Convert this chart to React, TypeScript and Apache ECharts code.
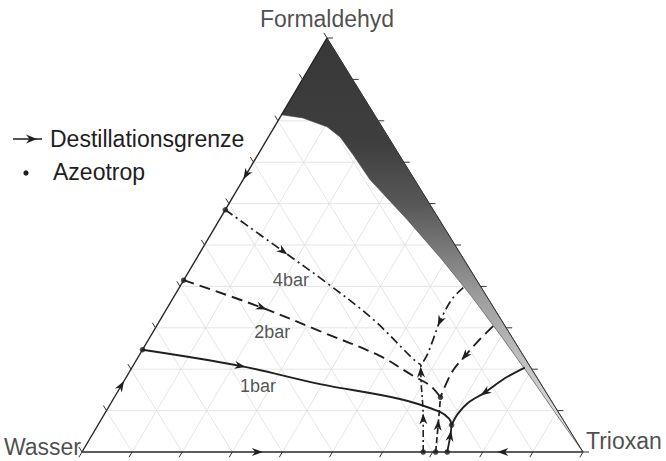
import React, { useEffect, useRef } from "react";
import * as echarts from "echarts";

// Compositions are [formaldehyde, trioxane] mass fractions; water is the remainder.
const componentNames = ["Wasser", "Trioxan", "Formaldehyd"];
const gridFractions = [0.1, 0.2, 0.3, 0.4, 0.5, 0.6, 0.7, 0.8, 0.9];
const tickFractions = [0, 0.1, 0.2, 0.3, 0.4, 0.5, 0.6, 0.7, 0.8, 0.9, 1];

// Inner edge of the shaded zone, from the Trioxan corner up to the water–formaldehyde edge
const shadedEdge = [
  [0, 1], [0.0795, 0.9145], [0.176, 0.812], [0.277, 0.703], [0.3735, 0.5965],
  [0.465, 0.491], [0.561, 0.375], [0.658, 0.253], [0.718, 0.19], [0.761, 0.143],
  [0.7855, 0.105], [0.807, 0.046], [0.8145, 0],
];

// Distillation boundaries at 1, 2 and 4 bar
const bar1Left = [[0.247, 0], [0.208, 0.214], [0.164, 0.395], [0.128, 0.572], [0.097, 0.667], [0.08, 0.694], [0.065, 0.706]];
const bar1Right = [[0.204, 0.784], [0.178, 0.757], [0.144, 0.734], [0.118, 0.712], [0.092, 0.705], [0.065, 0.706]];
const bar1Up = [[0, 0.729], [0.039, 0.716], [0.065, 0.706]];

const bar2Left = [[0.415, 0], [0.349, 0.188], [0.292, 0.332], [0.232, 0.481], [0.184, 0.571], [0.16, 0.617], [0.132, 0.651]];
const bar2Right = [[0.304, 0.672], [0.272, 0.661], [0.232, 0.651], [0.192, 0.644], [0.132, 0.651]];
const bar2Up = [[0, 0.706], [0.065, 0.679], [0.132, 0.651]];

const bar4Left = [[0.585, 0], [0.485, 0.164], [0.409, 0.288], [0.32, 0.425], [0.224, 0.552], [0.21, 0.574]];
const bar4Right = [[0.397, 0.567], [0.369, 0.558], [0.316, 0.56], [0.272, 0.568], [0.232, 0.5745], [0.21, 0.574]];
const bar4Up = [[0, 0.681], [0.08, 0.642], [0.193, 0.582], [0.21, 0.574]];

// Azeotropes: binary ones on the edges and the ternary ones where boundaries meet
const azeotropes = [
  [0.247, 0], [0.415, 0], [0.585, 0],
  [0.132, 0.651], [0.065, 0.706],
  [0, 0.681], [0, 0.706], [0, 0.729],
];

const pressureLabels = ["4bar", "2bar", "1bar"];
const pressureLabelAt = [[0.415, 0.214], [0.29, 0.238], [0.16, 0.273]];

// Arrowheads placed on a boundary vertex
const curveArrows = [
  { curve: bar4Left, at: 1 }, { curve: bar2Left, at: 1 }, { curve: bar1Left, at: 1 },
  { curve: bar4Right, at: 2 }, { curve: bar2Right, at: 2 }, { curve: bar1Right, at: 2 },
  { curve: bar4Up, at: 1 }, { curve: bar4Up, at: 2 }, { curve: bar2Up, at: 1 }, { curve: bar1Up, at: 1 },
];
// Arrowheads on the binary edges, pointing toward a pure component
const edgeArrows = [
  { at: [0.67, 0], toward: [0, 0] },
  { at: [0.16, 0], toward: [1, 0] },
  { at: [0, 0.35], toward: [0, 1] },
  { at: [0, 0.84], toward: [0, 0] },
];

const APEX_X = 0.489;
const INK = "#1f1f1f";
const TEXT = "#1e1e1e";
const FONT = '"Liberation Sans", Arial, sans-serif';

const toXY = (p: number[]) => [p[1] + APEX_X * p[0], p[0]];

function arrowShape(api: any, prev: number[], cur: number[], next: number[]) {
  const a = api.coord(prev);
  const c = api.coord(cur);
  const b = api.coord(next);
  let dx = b[0] - a[0];
  let dy = b[1] - a[1];
  const len = Math.hypot(dx, dy) || 1;
  dx /= len;
  dy /= len;
  const nx = -dy;
  const ny = dx;
  const L = 5.5;
  const W = 4;
  return [
    [c[0] + dx * L, c[1] + dy * L],
    [c[0] - dx * L + nx * W, c[1] - dy * L + ny * W],
    [c[0] - dx * 2.2, c[1] - dy * 2.2],
    [c[0] - dx * L - nx * W, c[1] - dy * L - ny * W],
  ];
}

export default function App() {
  const ref = useRef<HTMLDivElement>(null);

  useEffect(() => {
    if (!ref.current) return;
    const chart = echarts.init(ref.current, null, { renderer: "svg" });

    const W0 = [0, 0];
    const T0 = [0, 1];
    const F0 = [1, 0];

    const gridSegments: number[][] = [];
    gridFractions.forEach((g) => {
      gridSegments.push([...toXY([g, 0]), ...toXY([g, 1 - g])]);
      gridSegments.push([...toXY([0, g]), ...toXY([1 - g, g])]);
      gridSegments.push([...toXY([0, 1 - g]), ...toXY([1 - g, 0])]);
    });

    const ticks: number[][] = [];
    tickFractions.forEach((v) => {
      ticks.push([...toXY([v, 0]), 0]);
      ticks.push([...toXY([v, 1 - v]), 1]);
      ticks.push([...toXY([0, v]), 2]);
    });

    const arrowItems: number[][] = [];
    curveArrows.forEach(({ curve, at }) => {
      arrowItems.push([...toXY(curve[at - 1]), ...toXY(curve[at]), ...toXY(curve[at + 1])]);
    });
    edgeArrows.forEach(({ at, toward }) => {
      arrowItems.push([...toXY(at), ...toXY(at), ...toXY(toward)]);
    });

    const boundaryLine = (data: number[][], type: any, width: number) => ({
      type: "line",
      data: data.map(toXY),
      smooth: 0.35,
      showSymbol: false,
      silent: true,
      z: 5,
      lineStyle: { color: INK, width, type },
    });

    chart.setOption({
      animation: false,
      backgroundColor: "#ffffff",
      grid: { left: 82, right: 83, top: 38, bottom: 9 },
      xAxis: { type: "value", min: 0, max: 1, show: false },
      yAxis: { type: "value", min: 0, max: 1, show: false },
      graphic: [
        { type: "line", shape: { x1: 13, y1: 139, x2: 42, y2: 139 }, style: { stroke: INK, lineWidth: 1.5 } },
        { type: "polygon", shape: { points: [[37, 139], [26, 134.5], [29.5, 139], [26, 143.5]] }, style: { fill: INK } },
        { type: "text", x: 50, y: 139, style: { text: "Destillationsgrenze", font: `23px ${FONT}`, fill: TEXT, textVerticalAlign: "middle" } },
        { type: "circle", shape: { cx: 26, cy: 173, r: 2.6 }, style: { fill: INK } },
        { type: "text", x: 53, y: 172, style: { text: "Azeotrop", font: `23px ${FONT}`, fill: TEXT, textVerticalAlign: "middle" } },
      ],
      series: [
        {
          type: "custom",
          name: "grid",
          silent: true,
          z: 1,
          data: gridSegments,
          renderItem: (_p: any, api: any) => {
            const a = api.coord([api.value(0), api.value(1)]);
            const b = api.coord([api.value(2), api.value(3)]);
            return { type: "line", shape: { x1: a[0], y1: a[1], x2: b[0], y2: b[1] }, style: { stroke: "#dedede", lineWidth: 0.8 } };
          },
        },
        {
          type: "custom",
          name: "shaded",
          silent: true,
          z: 2,
          data: [0],
          renderItem: (_p: any, api: any) => {
            const pts = [toXY(F0), toXY(T0), ...shadedEdge.slice(1).map(toXY)].map((p) => api.coord(p));
            return {
              type: "polygon",
              shape: { points: pts },
              style: {
                fill: new echarts.graphic.LinearGradient(0, 0, 0, 1, [
                  { offset: 0, color: "#383838" },
                  { offset: 0.25, color: "#3e3e3e" },
                  { offset: 0.4, color: "#575757" },
                  { offset: 0.52, color: "#7c7c7c" },
                  { offset: 0.63, color: "#9e9e9e" },
                  { offset: 0.77, color: "#bebebe" },
                  { offset: 0.9, color: "#d8d8d8" },
                  { offset: 1, color: "#eeeeee" },
                ]),
                stroke: "#505050",
                lineWidth: 0.7,
              },
            };
          },
        },
        {
          type: "custom",
          name: "frame",
          silent: true,
          z: 3,
          data: [0],
          renderItem: (_p: any, api: any) => {
            const w = api.coord(toXY(W0));
            const t = api.coord(toXY(T0));
            const f = api.coord(toXY(F0));
            return {
              type: "group",
              children: [
                { type: "line", shape: { x1: w[0], y1: w[1], x2: t[0], y2: t[1] }, style: { stroke: "#262626", lineWidth: 1.5 } },
                { type: "line", shape: { x1: w[0], y1: w[1], x2: f[0], y2: f[1] }, style: { stroke: "#262626", lineWidth: 1.4 } },
                { type: "line", shape: { x1: t[0], y1: t[1], x2: f[0], y2: f[1] }, style: { stroke: "#333", lineWidth: 1.0 } },
              ],
            };
          },
        },
        {
          type: "custom",
          name: "ticks",
          silent: true,
          z: 3,
          data: ticks,
          renderItem: (_p: any, api: any) => {
            const p = api.coord([api.value(0), api.value(1)]);
            const side = api.value(2);
            const w = api.coord(toXY(W0));
            const t = api.coord(toXY(T0));
            const f = api.coord(toXY(F0));
            const from = side === 0 ? t : side === 1 ? w : f;
            const to = side === 0 ? f : side === 1 ? t : w;
            const dx = to[0] - from[0];
            const dy = to[1] - from[1];
            const len = Math.hypot(dx, dy);
            const L = 6;
            return {
              type: "line",
              shape: { x1: p[0], y1: p[1], x2: p[0] + (dx / len) * L, y2: p[1] + (dy / len) * L },
              style: { stroke: "#333", lineWidth: 1 },
            };
          },
        },
        boundaryLine(bar1Left, "solid", 1.9),
        boundaryLine(bar1Right, "solid", 1.9),
        boundaryLine(bar1Up, "solid", 1.8),
        boundaryLine(bar2Left, [11, 6], 1.9),
        boundaryLine(bar2Right, [11, 6], 1.9),
        boundaryLine(bar2Up, [6, 3], 1.7),
        boundaryLine(bar4Left, [9, 4, 2, 4], 1.7),
        boundaryLine(bar4Right, [9, 4, 2, 4], 1.7),
        boundaryLine(bar4Up, [7, 3, 2, 3], 1.6),
        {
          type: "custom",
          name: "arrows",
          silent: true,
          z: 6,
          data: arrowItems,
          renderItem: (_p: any, api: any) => ({
            type: "polygon",
            shape: {
              points: arrowShape(
                api,
                [api.value(0), api.value(1)],
                [api.value(2), api.value(3)],
                [api.value(4), api.value(5)]
              ),
            },
            style: { fill: INK },
          }),
        },
        {
          type: "scatter",
          name: "Azeotrop",
          silent: true,
          z: 7,
          symbolSize: 5.5,
          itemStyle: { color: INK },
          data: azeotropes.map(toXY),
        },
        {
          type: "scatter",
          name: "labels",
          silent: true,
          z: 8,
          symbolSize: 0,
          data: [
            { value: toXY(W0), label: { show: true, formatter: componentNames[0], position: "left", distance: 1, offset: [0, -5] } },
            { value: toXY(T0), label: { show: true, formatter: componentNames[1], position: "right", distance: 3, offset: [0, -11] } },
            { value: toXY(F0), label: { show: true, formatter: componentNames[2], position: "top", distance: 8 } },
            ...pressureLabels.map((txt, i) => ({
              value: toXY(pressureLabelAt[i]),
              label: { show: true, formatter: txt, position: "inside", fontSize: 18, color: "#262626", textBorderWidth: 0 },
            })),
          ],
          label: { color: TEXT, fontFamily: FONT, fontSize: 23 },
        },
      ],
    });

    return () => chart.dispose();
  }, []);

  return <div ref={ref} style={{ position: "absolute", left: 0, top: 0, width: 666, height: 461 }} />;
}
